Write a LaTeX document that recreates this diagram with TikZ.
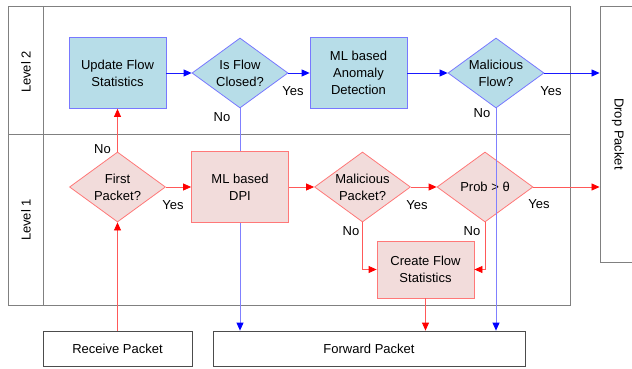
\documentclass[tikz,border=0pt]{standalone}
\usepackage{fontspec}
\setmainfont{Liberation Sans}
\usetikzlibrary{shapes.geometric,arrows.meta}

\definecolor{bfill}{RGB}{183,221,232}
\definecolor{bedge}{RGB}{120,120,255}
\definecolor{rfill}{RGB}{242,220,219}
\definecolor{redge}{RGB}{255,120,120}

\begin{document}
\begin{tikzpicture}[x=1pt, y=-1pt, font={\fontsize{13}{17}\selectfont}]
	\tikzstyle{lane} = [ draw=black!50, line width=0.9pt ];
	\tikzstyle{bbox} = [ draw=bedge, fill=bfill, rectangle, line width=0.8pt, align=center, minimum width=97, minimum height=71 ];
	\tikzstyle{rbox} = [ draw=redge, fill=rfill, rectangle, line width=0.8pt, align=center, minimum width=97, minimum height=71 ];
	\tikzstyle{bdec} = [ draw=bedge, fill=bfill, diamond, line width=0.8pt, align=center, inner sep=0, aspect=1.37, minimum width=96, minimum height=70 ];
	\tikzstyle{rdec} = [ draw=redge, fill=rfill, diamond, line width=0.8pt, align=center, inner sep=0, aspect=1.37, minimum width=96, minimum height=70 ];
	\tikzstyle{io} = [ draw=black!70, rectangle, line width=0.8pt, minimum height=35 ];
	\tikzstyle{info} = [ inner sep=1pt ];
	\tikzstyle{rline} = [ draw=red!65, line width=0.8pt, -{Triangle[length=8pt, width=7pt, color=red]} ];
	\tikzstyle{bline} = [ draw=blue!90, line width=0.8pt, -{Triangle[length=8pt, width=7pt, color=blue]} ];
	\tikzstyle{bdown} = [ draw=blue!50, line width=0.8pt, -{Triangle[length=8pt, width=7pt, color=blue]} ];
	\tikzstyle{bplain} = [ draw=blue!50, line width=0.8pt ];

	\useasboundingbox (0,0) rectangle (632,369);

	\draw[lane] (8,6) rectangle (570,305);
	\draw[lane] (8,134) -- (570,134);
	\draw[lane] (43,6) -- (43,305);
	\node[info, rotate=90] (lvtwo) at (26,72) {Level 2};
	\node[info, rotate=90] (lvone) at (26,220) {Level 1};

	\node[bbox] (upd) at (117.5,73) {Update Flow\\Statistics};
	\node[bdec] (closed) at (240,73) {Is Flow\\Closed?};
	\node[bbox] (anom) at (358.5,73) {ML based\\Anomaly\\Detection};
	\node[bdec] (mflow) at (496,73) {Malicious\\Flow?};

	\node[rdec] (first) at (117.5,187) {First\\Packet?};
	\node[rbox] (dpi) at (240,187) {ML based\\DPI};
	\node[rdec] (mpkt) at (362.5,187) {Malicious\\Packet?};
	\node[rdec] (prob) at (485,187) {Prob > θ};
	\node[rbox, minimum height=57] (cfs) at (425.5,269.5) {Create Flow\\Statistics};

	\node[io, minimum width=149] (recv) at (117.5,348.5) {Receive Packet};
	\node[io, minimum width=312] (fwd) at (369,348.5) {Forward Packet};
	\node[draw=black!50, line width=0.9pt, rotate=-90, minimum width=256, minimum height=36] (drop) at (618,134) {Drop Packet};

	\draw[rline] (recv) -- (first);
	\draw[rline] (first) -- (upd);
	\draw[rline] (first) -- (dpi);
	\draw[bline] (upd) -- (closed);
	\draw[bline] (closed) -- (anom);
	\draw[bline] (anom) -- (mflow);
	\draw[bline] (mflow) -- (mflow -| drop.south);
	\draw[bplain] (closed) -- (dpi);
	\draw[bdown] (dpi) -- (dpi |- fwd.north);
	\draw[rline] (dpi) -- (mpkt);
	\draw[rline] (mpkt) -- (prob);
	\draw[rline] (prob) -- (prob -| drop.south);
	\draw[rline] (mpkt.south) |- (cfs.west);
	\draw[rline] (prob.south) |- (cfs.east);
	\draw[rline] (cfs) -- (cfs |- fwd.north);
	\draw[bdown] (mflow.south) -- (mflow.south |- fwd.north);

	\node[info] (nofirst) at (102.5,149) {No};
	\node[info] (yesfirst) at (173,205) {Yes};
	\node[info] (yesclosed) at (293,91) {Yes};
	\node[info] (noclosed) at (222,117) {No};
	\node[info] (yesmflow) at (551,91) {Yes};
	\node[info] (nomflow) at (482,113) {No};
	\node[info] (yesmpkt) at (417,205) {Yes};
	\node[info] (nompkt) at (351,231) {No};
	\node[info] (noprob) at (472,231) {No};
	\node[info] (yesprob) at (539,204) {Yes};
\end{tikzpicture}
\end{document}
